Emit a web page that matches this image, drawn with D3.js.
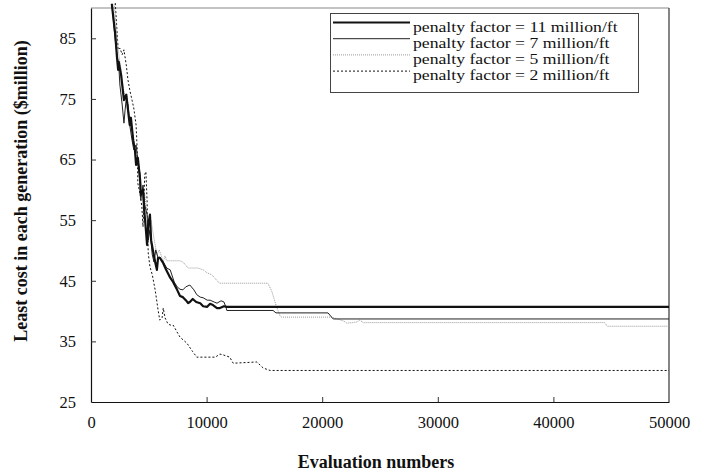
<!DOCTYPE html>
<html>
<head>
<meta charset="utf-8">
<script src="https://cdn.jsdelivr.net/npm/d3@7"></script>
<style>
  body { margin: 0; background: #fff; }
  svg { display: block; font-family: "Liberation Serif", "Times New Roman", serif; }
</style>
</head>
<body>
<svg width="707" height="473"></svg>
<script>
// penalty factor = 11 million/ft  [evaluations, cost]
const pf11 = [[1800,90.7],[2100,85.6],[2250,81.8],[2350,79.8],[2400,81.1],[2600,79.0],[2750,76.5],[2850,74.8],
  [3050,75.7],[3200,73.2],[3350,70.7],[3450,71.9],[3650,68.2],[3800,66.6],[3900,64.1],[4050,65.3],[4250,61.6],
  [4300,59.2],[4500,60.0],[4600,56.7],[4750,53.4],[4850,50.9],[4950,54.2],[5100,55.9],[5200,51.7],[5350,50.1],
  [5550,48.1],[5700,46.8],[5800,48.8],[5950,48.8],[6250,47.9],[6500,46.8],[6850,45.5],[7100,44.8],[7450,43.5],
  [7700,42.5],[7950,42.3],[8200,41.8],[8400,41.3],[8550,41.5],[8800,42.0],[9100,41.5],[9450,41.3],[9700,40.8],
  [10050,40.7],[10300,41.2],[10550,41.0],[10900,40.5],[11150,40.5],[11500,40.8],[11750,40.7],[50000,40.7]];

// penalty factor = 7 million/ft
const pf7 = [[1800,90.7],[2100,84.7],[2250,82.3],[2400,80.6],[2500,77.3],[2700,74.0],[2850,71.0],[2950,73.2],
  [3050,75.0],[3200,74.0],[3350,70.7],[3550,68.2],[3700,66.6],[3900,67.4],[4050,64.9],[4250,62.5],[4300,58.3],
  [4500,60.8],[4650,57.5],[4850,55.9],[4950,51.7],[5100,53.4],[5300,49.3],[5450,48.1],[5600,50.1],[5800,48.8],
  [5950,48.9],[6250,48.1],[6550,47.1],[6850,46.8],[7200,44.8],[7450,44.0],[7700,43.6],[7950,43.5],[8200,44.0],
  [8550,44.3],[8900,43.5],[9150,42.7],[9450,42.3],[9700,42.2],[10050,41.8],[10300,41.8],[10650,41.5],
  [10900,41.3],[11250,41.7],[11500,41.5],[11700,40.5],[11750,40.1],[15750,40.1],[16000,39.7],[20500,39.7],
  [20950,38.7],[50000,38.7]];

// penalty factor = 5 million/ft
const pf5 = [[2000,90.7],[2250,85.6],[2400,82.3],[2600,79.8],[2750,77.3],[2950,74.8],[3100,75.7],[3300,72.4],
  [3450,69.9],[3650,69.1],[3800,66.6],[4000,64.9],[4150,62.5],[4350,60.8],[4500,58.3],[4650,59.2],[4850,55.9],
  [5000,54.2],[5200,55.0],[5350,53.1],[5550,50.9],[5700,49.3],[5900,50.1],[6050,49.3],[6250,48.1],[6400,49.1],
  [6550,48.3],[7700,48.3],[7950,48.1],[8400,47.1],[9250,47.1],[9700,46.8],[10050,46.3],[10450,46.0],
  [11000,44.8],[11150,44.6],[15300,44.6],[15650,43.2],[16000,41.0],[16350,39.2],[16500,39.0],[20850,39.0],
  [21300,38.7],[21800,38.4],[22150,38.0],[23000,38.2],[23250,38.5],[23550,38.1],[44450,38.1],[44650,37.5],
  [50000,37.5]];

// penalty factor = 2 million/ft
const pf2 = [[2100,90.8],[2250,86.2],[2350,83.1],[2500,83.4],[2700,82.3],[2850,83.1],[3050,80.6],[3200,78.1],
  [3350,76.5],[3550,74.8],[3700,73.5],[3900,70.7],[4000,66.6],[4050,61.1],[4250,59.2],[4400,57.2],[4500,53.9],
  [4650,62.5],[4750,63.0],[4850,58.3],[4950,49.6],[5100,47.3],[5300,46.0],[5550,43.5],[5800,40.2],[5950,38.5],
  [6150,38.9],[6250,40.5],[6400,38.9],[6650,37.9],[6850,37.7],[7100,37.7],[7700,35.7],[8300,34.7],[8800,33.3],
  [9150,32.4],[10750,32.4],[11150,32.9],[11400,32.8],[12000,32.4],[12300,31.4],[14350,31.6],[14900,30.6],
  [15500,30.2],[50000,30.2]];

const seriesNames = ['penalty factor = 11 million/ft', 'penalty factor = 7 million/ft',
  'penalty factor = 5 million/ft', 'penalty factor = 2 million/ft'];
const xTicks = [0, 10000, 20000, 30000, 40000, 50000];
const yTicks = [25, 35, 45, 55, 65, 75, 85];

const styles = [
  { color: '#111', width: 2.2, dash: null },
  { color: '#222', width: 1, dash: null },
  { color: '#999', width: 1, dash: '1,1' },
  { color: '#111', width: 1, dash: '2,2' }
];

var svg = d3.select('svg');
var plotLeft = 91, plotRight = 669, plotTop = 8, plotBottom = 402;

var x = d3.scaleLinear().domain([0, 50000]).range([plotLeft, plotRight]);
var y = d3.scaleLinear().domain([25, 90]).range([plotBottom, plotTop]);

// frame
svg.append('line').attr('x1', plotLeft).attr('x2', plotRight).attr('y1', plotTop).attr('y2', plotTop)
  .attr('stroke', '#888').attr('stroke-width', 1.2);
svg.append('line').attr('x1', plotRight).attr('x2', plotRight).attr('y1', plotTop).attr('y2', plotBottom)
  .attr('stroke', '#333').attr('stroke-width', 1.2);

// axes with inward ticks
var xAxis = svg.append('g').attr('transform', `translate(0,${plotBottom})`)
  .call(d3.axisBottom(x).tickValues(xTicks).tickSizeInner(-5).tickSizeOuter(0).tickPadding(14)
    .tickFormat(d3.format('d')));
var yAxis = svg.append('g').attr('transform', `translate(${plotLeft},0)`)
  .call(d3.axisLeft(y).tickValues(yTicks).tickSizeInner(-5).tickSizeOuter(0).tickPadding(15));

[xAxis, yAxis].forEach(function(g){
  g.select('.domain').attr('stroke', '#111').attr('stroke-width', 1.2);
  g.selectAll('.tick line').attr('stroke', '#333');
  g.selectAll('.tick text').attr('font-family', '"Liberation Serif", serif')
    .attr('font-size', 16.5).attr('fill', '#111');
});
xAxis.selectAll('.tick').filter(d => d === 0 || d === 50000).select('line').remove();
yAxis.selectAll('.tick').filter(d => d === 25).select('line').remove();

// series lines
var line = d3.line().x(d => x(d[0])).y(d => y(d[1]));
var data = [pf11, pf7, pf5, pf2];
var order = [3, 2, 1, 0];
order.forEach(function(i){
  svg.append('path').datum(data[i])
    .attr('d', line)
    .attr('fill', 'none')
    .attr('stroke', styles[i].color)
    .attr('stroke-width', styles[i].width)
    .attr('stroke-dasharray', styles[i].dash)
    .attr('stroke-linejoin', 'round');
});

// legend (text is a bit wider than the font, as in the original)
var legend = svg.append('g');
legend.append('rect').attr('x', 330.5).attr('y', 13.5).attr('width', 308).attr('height', 79)
  .attr('fill', '#fff').attr('stroke', '#444').attr('stroke-width', 1);
seriesNames.forEach(function(name, i){
  var ly = 22.5 + i * 16.2;
  legend.append('line').attr('x1', 333).attr('x2', 410).attr('y1', ly).attr('y2', ly)
    .attr('stroke', styles[i].color).attr('stroke-width', styles[i].width)
    .attr('stroke-dasharray', styles[i].dash);
  legend.append('text').attr('transform', `translate(413,${ly + 9}) scale(1.22,1)`)
    .attr('font-size', 14.5).attr('fill', '#111').text(name);
});

// axis titles
svg.append('text').attr('x', 376).attr('y', 468).attr('text-anchor', 'middle')
  .attr('font-size', 18).attr('font-weight', 'bold').attr('fill', '#111')
  .text('Evaluation numbers');
svg.append('text').attr('transform', 'translate(27,191) rotate(-90)').attr('text-anchor', 'middle')
  .attr('font-size', 18).attr('font-weight', 'bold').attr('fill', '#111')
  .text('Least cost in each generation ($million)');
</script>
</body>
</html>
